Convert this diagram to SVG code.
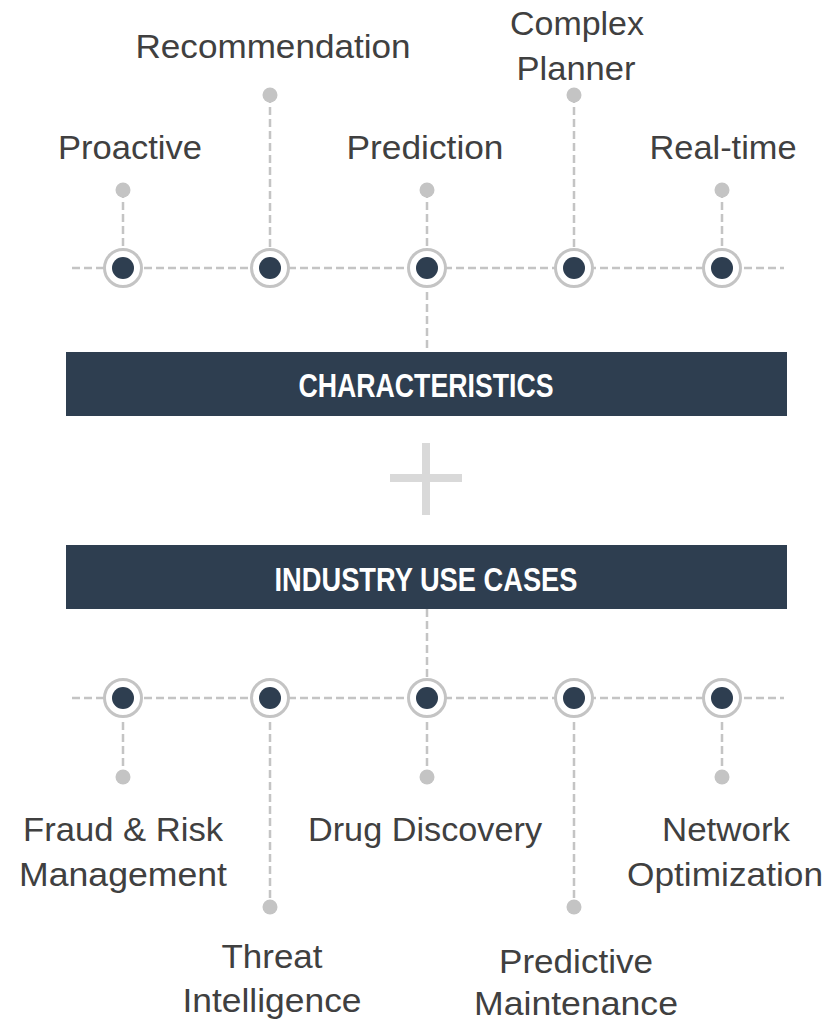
<svg xmlns="http://www.w3.org/2000/svg" width="828" height="1021" viewBox="0 0 828 1021">
<style>
.lbl{font-family:"Liberation Sans",Arial,sans-serif;font-size:34px;fill:#404040;text-anchor:middle}
.bar{fill:#2e3e50}
.bartxt{font-family:"Liberation Sans",Arial,sans-serif;font-size:34px;font-weight:bold;fill:#ffffff;text-anchor:middle}
.dash{stroke:#c4c4c4;stroke-width:2.5;stroke-dasharray:8 4;fill:none}
.ring{fill:#ffffff;stroke:#c4c4c4;stroke-width:3}
.core{fill:#2e3e50}
.dot{fill:#c4c4c4}
</style>
<g id="connectors">
<line class="dash" x1="72" y1="268" x2="784" y2="268"/>
<line class="dash" x1="123" y1="190" x2="123" y2="268"/>
<line class="dash" x1="270" y1="95" x2="270" y2="268"/>
<line class="dash" x1="427" y1="190" x2="427" y2="268"/>
<line class="dash" x1="574" y1="95" x2="574" y2="268"/>
<line class="dash" x1="722" y1="190" x2="722" y2="268"/>
<line class="dash" x1="427" y1="268" x2="427" y2="352"/>
<line class="dash" x1="427" y1="609" x2="427" y2="698"/>
<line class="dash" x1="72" y1="698" x2="784" y2="698"/>
<line class="dash" x1="123" y1="698" x2="123" y2="777"/>
<line class="dash" x1="270" y1="698" x2="270" y2="907"/>
<line class="dash" x1="427" y1="698" x2="427" y2="777"/>
<line class="dash" x1="574" y1="698" x2="574" y2="907"/>
<line class="dash" x1="722" y1="698" x2="722" y2="777"/>
</g>
<g id="node-proactive">
<circle class="dot" cx="123" cy="190" r="7.5"/>
<circle class="ring" cx="123" cy="268" r="18.5"/><circle class="core" cx="123" cy="268" r="11"/>
<text class="lbl" x="130" y="159" textLength="144" lengthAdjust="spacingAndGlyphs">Proactive</text>
</g>
<g id="node-recommendation">
<circle class="dot" cx="270" cy="95" r="7.5"/>
<circle class="ring" cx="270" cy="268" r="18.5"/><circle class="core" cx="270" cy="268" r="11"/>
<text class="lbl" x="273" y="58" textLength="275" lengthAdjust="spacingAndGlyphs">Recommendation</text>
</g>
<g id="node-prediction">
<circle class="dot" cx="427" cy="190" r="7.5"/>
<circle class="ring" cx="427" cy="268" r="18.5"/><circle class="core" cx="427" cy="268" r="11"/>
<text class="lbl" x="425" y="159" textLength="157" lengthAdjust="spacingAndGlyphs">Prediction</text>
</g>
<g id="node-complex-planner">
<circle class="dot" cx="574" cy="95" r="7.5"/>
<circle class="ring" cx="574" cy="268" r="18.5"/><circle class="core" cx="574" cy="268" r="11"/>
<text class="lbl" x="577" y="35" textLength="134" lengthAdjust="spacingAndGlyphs">Complex</text>
<text class="lbl" x="576" y="80" textLength="119" lengthAdjust="spacingAndGlyphs">Planner</text>
</g>
<g id="node-realtime">
<circle class="dot" cx="722" cy="190" r="7.5"/>
<circle class="ring" cx="722" cy="268" r="18.5"/><circle class="core" cx="722" cy="268" r="11"/>
<text class="lbl" x="723" y="159" textLength="147" lengthAdjust="spacingAndGlyphs">Real-time</text>
</g>
<g id="characteristics">
<rect class="bar" x="66" y="352" width="721" height="64"/>
<text class="bartxt" x="426" y="397" textLength="255" lengthAdjust="spacingAndGlyphs">CHARACTERISTICS</text>
</g>
<g id="plus">
<rect x="390" y="474" width="72" height="8" fill="#d9d9d9"/>
<rect x="422" y="443" width="8" height="72" fill="#d9d9d9"/>
</g>
<g id="industry-use-cases">
<rect class="bar" x="66" y="545" width="721" height="64"/>
<text class="bartxt" x="426" y="591" textLength="303" lengthAdjust="spacingAndGlyphs">INDUSTRY USE CASES</text>
</g>
<g id="node-fraud">
<circle class="ring" cx="123" cy="698" r="18.5"/><circle class="core" cx="123" cy="698" r="11"/>
<circle class="dot" cx="123" cy="777" r="7.5"/>
<text class="lbl" x="123" y="841" textLength="200" lengthAdjust="spacingAndGlyphs">Fraud &amp; Risk</text>
<text class="lbl" x="123" y="886" textLength="208" lengthAdjust="spacingAndGlyphs">Management</text>
</g>
<g id="node-threat">
<circle class="ring" cx="270" cy="698" r="18.5"/><circle class="core" cx="270" cy="698" r="11"/>
<circle class="dot" cx="270" cy="907" r="7.5"/>
<text class="lbl" x="272" y="968" textLength="101" lengthAdjust="spacingAndGlyphs">Threat</text>
<text class="lbl" x="272" y="1012" textLength="179" lengthAdjust="spacingAndGlyphs">Intelligence</text>
</g>
<g id="node-drug">
<circle class="ring" cx="427" cy="698" r="18.5"/><circle class="core" cx="427" cy="698" r="11"/>
<circle class="dot" cx="427" cy="777" r="7.5"/>
<text class="lbl" x="425" y="841" textLength="234" lengthAdjust="spacingAndGlyphs">Drug Discovery</text>
</g>
<g id="node-predictive">
<circle class="ring" cx="574" cy="698" r="18.5"/><circle class="core" cx="574" cy="698" r="11"/>
<circle class="dot" cx="574" cy="907" r="7.5"/>
<text class="lbl" x="576" y="973" textLength="154" lengthAdjust="spacingAndGlyphs">Predictive</text>
<text class="lbl" x="576" y="1015" textLength="204" lengthAdjust="spacingAndGlyphs">Maintenance</text>
</g>
<g id="node-network">
<circle class="ring" cx="722" cy="698" r="18.5"/><circle class="core" cx="722" cy="698" r="11"/>
<circle class="dot" cx="722" cy="777" r="7.5"/>
<text class="lbl" x="726" y="841" textLength="128" lengthAdjust="spacingAndGlyphs">Network</text>
<text class="lbl" x="725" y="886" textLength="196" lengthAdjust="spacingAndGlyphs">Optimization</text>
</g>
</svg>
